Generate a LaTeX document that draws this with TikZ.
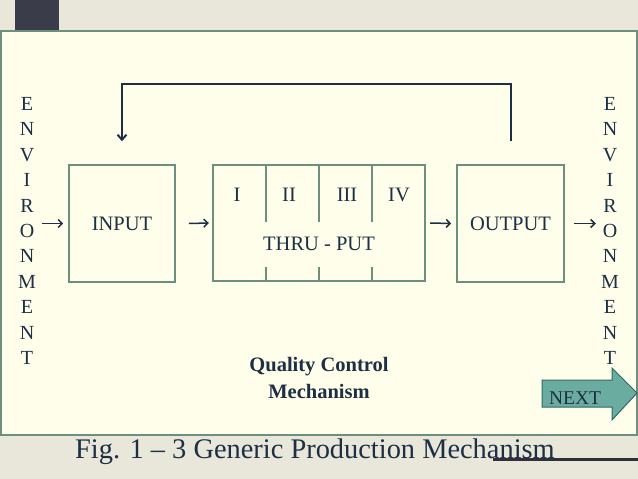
\documentclass[tikz,border=0pt]{standalone}
\usepackage{fontspec}
\setmainfont{Liberation Serif}
\usetikzlibrary{arrows.meta}
\definecolor{bgtex}{HTML}{E8E7DA}
\definecolor{panel}{HTML}{FEFEEA}
\definecolor{boxline}{HTML}{6C8F80}
\definecolor{ink}{HTML}{1C2F45}
\definecolor{darkbox}{HTML}{3A3C4A}
\definecolor{nextfill}{HTML}{6AADA0}
\definecolor{nextline}{HTML}{2E6B62}
\tikzset{
  x=1pt,y=1pt,
  blockbox/.style={draw=boxline, line width=1.6pt, inner sep=0pt, text=ink,
    font=\fontsize{20.5}{24}\selectfont},
  lbl/.style={text=ink, inner sep=0pt, font=\fontsize{20.5}{24}\selectfont},
  envtext/.style={text=ink, inner sep=0pt, align=center,
    font=\fontsize{20}{25.4}\selectfont},
  arr/.style={draw=ink, line width=1.5pt, -{Straight Barb[length=4pt,width=8pt]}},
  fb/.style={draw=ink, line width=2pt, -{Straight Barb[length=5pt,width=9pt]}},
  divider/.style={draw=boxline, line width=1.4pt},
}
\begin{document}
\begin{tikzpicture}
\useasboundingbox (0,0) rectangle (638,-479);
% background
\fill[bgtex] (0,0) rectangle (638,-479);
\fill[darkbox] (15,0) rectangle (59,-31);
\filldraw[fill=panel, draw=boxline, line width=1.3pt] (1,-31) rectangle (637,-435);

% environment columns
\node[envtext] (envL) at (27,-231) {E\\N\\V\\I\\R\\O\\N\\M\\E\\N\\T};

% blocks
\node[blockbox, minimum width=106pt, minimum height=117pt] (input) at (122,-223.5) {INPUT};
\node[draw=none, minimum width=212pt, minimum height=116pt, inner sep=0pt] (thru) at (319,-223) {};
\draw[boxline, line width=1.6pt] (thru.south west) rectangle (thru.north east);
\node[blockbox, minimum width=107pt, minimum height=117pt] (output) at (510.5,-223.5) {OUTPUT};

% thru-put dividers
\foreach \xx in {266,319,372}{
  \draw[divider] (\xx,-165) -- (\xx,-222);
  \draw[divider] (\xx,-267) -- (\xx,-281);
}
\node[lbl] (s1) at (237,-195) {I};
\node[lbl] (s2) at (289,-195) {II};
\node[lbl] (s3) at (347,-195) {III};
\node[lbl] (s4) at (399,-195) {IV};
\node[lbl] (tp) at (319,-244) {THRU - PUT};

% environment right (drawn before NEXT arrow)
\node[envtext] (envR) at (610,-231) {E\\N\\V\\I\\R\\O\\N\\M\\E\\N\\T};

% flow arrows
\draw[arr] ([xshift=-26pt]input.west) -- ([xshift=-5pt]input.west);
\draw[arr] ([xshift=13pt]input.east) -- ([xshift=-4pt]thru.west);
\draw[arr] ([xshift=5pt]thru.east) -- ([xshift=-5pt]output.west);
\draw[arr] ([xshift=9pt]output.east) -- ([xshift=31pt]output.east);

% feedback loop
\coordinate (fbstart) at ([yshift=23pt]output.north);
\coordinate (fbend) at ([yshift=23pt]input.north);
\draw[fb] (fbstart) -- ++(0,57) -| (fbend);

% quality control
\node[text=ink, align=center, inner sep=0pt, font=\bfseries\fontsize{20.5}{27}\selectfont] (qc) at (319,-378) {Quality Control\\Mechanism};

% NEXT arrow
\filldraw[fill=nextfill, draw=nextline, line width=1pt]
  (542,-380) -- (612,-380) -- (612,-368) -- (637,-393) -- (612,-420) -- (612,-407) -- (542,-407) -- cycle;
\node[text=ink, inner sep=0pt, font=\fontsize{19.5}{22}\selectfont] (next) at (575,-398) {NEXT};

% caption
\draw[darkbox!80!black, line width=3pt] (493,-459) -- (638,-459);
\node[text=ink, inner sep=0pt, anchor=base west, font=\fontsize{28.4}{32}\selectfont] (cap) at (75,-458) {Fig. 1 -- 3 Generic Production Mechanism};
\end{tikzpicture}
\end{document}
